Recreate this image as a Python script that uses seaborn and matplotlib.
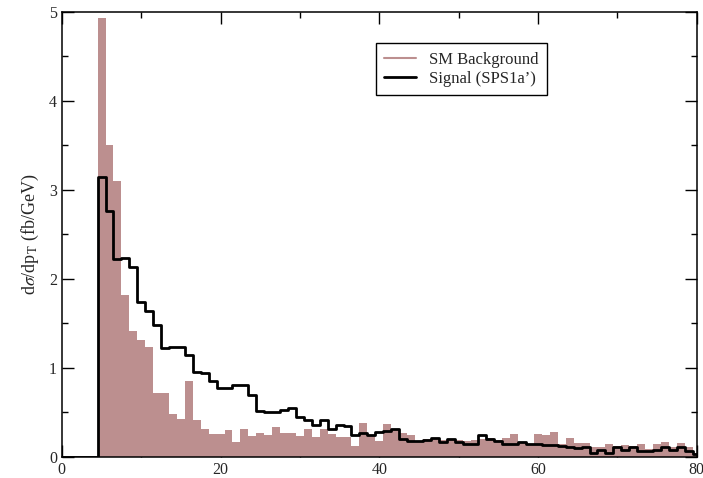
import numpy as np
import pandas as pd
import seaborn as sns
import matplotlib
matplotlib.use("Agg")
import matplotlib.pyplot as plt
from matplotlib.lines import Line2D
from matplotlib.ticker import MultipleLocator

# ---- data (bin centres 5..80, width 1; first pseudo-bin 0-4.5 is empty) ----
bin_centers = list(range(5, 81))
background = [4.93, 3.51, 3.10, 1.82, 1.42, 1.31, 1.24, 0.72, 0.72, 0.48,
              0.43, 0.85, 0.42, 0.31, 0.26, 0.26, 0.30, 0.17, 0.31, 0.23,
              0.27, 0.25, 0.34, 0.27, 0.27, 0.23, 0.31, 0.22, 0.31, 0.26,
              0.22, 0.22, 0.12, 0.38, 0.23, 0.18, 0.37, 0.30, 0.27, 0.25,
              0.185, 0.20, 0.21, 0.19, 0.20, 0.19, 0.18, 0.19, 0.20, 0.21,
              0.19, 0.21, 0.26, 0.17, 0.13, 0.26, 0.25, 0.28, 0.145, 0.21,
              0.16, 0.16, 0.11, 0.11, 0.145, 0.12, 0.135, 0.12, 0.145, 0.09,
              0.15, 0.17, 0.11, 0.16, 0.11, 0.05]
signal = [3.14, 2.76, 2.22, 2.24, 2.13, 1.74, 1.64, 1.48, 1.22, 1.23,
          1.23, 1.15, 0.96, 0.94, 0.85, 0.78, 0.78, 0.81, 0.81, 0.70,
          0.52, 0.50, 0.50, 0.53, 0.555, 0.45, 0.41, 0.36, 0.42, 0.31,
          0.36, 0.35, 0.25, 0.265, 0.25, 0.28, 0.29, 0.31, 0.20, 0.18,
          0.18, 0.19, 0.21, 0.17, 0.20, 0.17, 0.145, 0.145, 0.25, 0.20,
          0.18, 0.145, 0.15, 0.17, 0.15, 0.15, 0.14, 0.13, 0.12, 0.11,
          0.10, 0.11, 0.05, 0.08, 0.05, 0.11, 0.08, 0.11, 0.07, 0.07,
          0.08, 0.11, 0.08, 0.11, 0.07, 0.03]
x_ticks = [0, 20, 40, 60, 80]
y_ticks = [0, 1, 2, 3, 4, 5]
legend_labels = ["SM Background", "Signal (SPS1a\u2019)"]

# ---- build table ----
edges = [0.0] + [c - 0.5 for c in bin_centers] + [bin_centers[-1] + 0.5]
centers = [2.25] + bin_centers
df = pd.DataFrame({
    "pt": centers,
    "bg": [0.0] + background,
    "sig": [0.0] + signal,
})

sns.set_style("ticks")
plt.rcParams["font.family"] = ["Liberation Serif", "DejaVu Serif"]
plt.rcParams["mathtext.fontset"] = "stix"

fig = plt.figure(figsize=(7.03, 4.78), dpi=100)
ax = fig.add_axes([0.088, 0.044, 0.903, 0.931])

bar_color = "#bc8f8f"
sns.histplot(data=df, x="pt", weights="bg", bins=edges, stat="count",
             element="bars", color=bar_color, alpha=1.0, linewidth=0,
             ax=ax)
n_before = len(ax.lines)
sns.histplot(data=df, x="pt", weights="sig", bins=edges, stat="count",
             element="step", fill=False, color="black", linewidth=2.0,
             ax=ax)
for ln in ax.lines[n_before:]:
    ln.set_zorder(3)

ax.set_xlim(0, 80)
ax.set_ylim(0, 5)
ax.set_xticks(x_ticks)
ax.set_yticks(y_ticks)
ax.xaxis.set_minor_locator(MultipleLocator(10))
ax.yaxis.set_minor_locator(MultipleLocator(0.5))
ax.tick_params(which="both", direction="in", top=True, right=True,
               labelsize=11.5, width=1.0, color="black")
ax.tick_params(which="major", length=8.5)
ax.tick_params(which="minor", length=4.3)
for s in ax.spines.values():
    s.set_linewidth(1.1)
    s.set_color("black")

ax.set_xlabel("")
ax.set_ylabel(r"d$\sigma$/dp$_\mathrm{T}$ (fb/GeV)", fontsize=13, labelpad=6)

handles = [Line2D([0], [0], color=bar_color, lw=1.5),
           Line2D([0], [0], color="black", lw=2.0)]
leg = ax.legend(handles, legend_labels, loc="upper left",
                bbox_to_anchor=(0.481, 0.948), fontsize=12, frameon=True,
                fancybox=False, edgecolor="black", framealpha=1.0,
                handlelength=1.9, borderpad=0.5, labelspacing=0.2)
leg.get_frame().set_linewidth(1.0)

fig.savefig("out.png", dpi=100)
